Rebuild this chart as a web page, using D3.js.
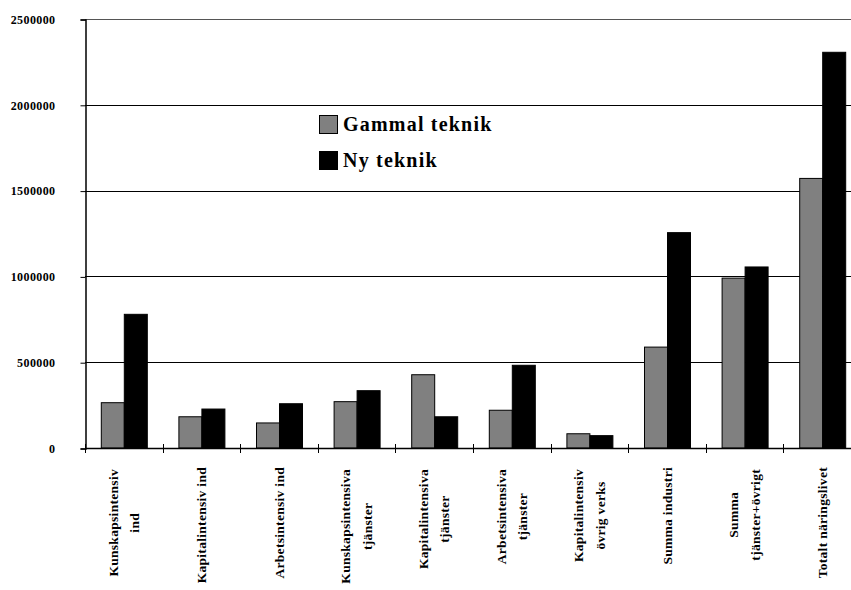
<!DOCTYPE html>
<html><head><meta charset="utf-8">
<script src="https://cdn.jsdelivr.net/npm/d3@7"></script>
<style>body{margin:0;background:#fff}svg{display:block}</style>
</head><body><svg id="c" width="851" height="590"></svg>
<script>
const categories = [
  ["Kunskapsintensiv","ind"],
  ["Kapitalintensiv ind"],
  ["Arbetsintensiv ind"],
  ["Kunskapsintensiva","tjänster"],
  ["Kapitalintensiva","tjänster"],
  ["Arbetsintensiva","tjänster"],
  ["Kapitalintensiv","övrig verks"],
  ["Summa industri"],
  ["Summa","tjänster+övrigt"],
  ["Totalt näringslivet"]
];
const seriesNames = ["Gammal teknik","Ny teknik"];
const gammal = [264000,182000,146000,270000,427000,220000,83000,588000,990000,1571000];
const ny     = [779000,227000,258000,334000,182000,482000,72000,1255000,1055000,2306000];
const yTicks = [0,500000,1000000,1500000,2000000,2500000];

const colors = {"Gammal teknik":"#808080","Ny teknik":"#000000"};
const font = "'Liberation Serif','DejaVu Serif',serif";
const svg = d3.select("#c");
const x0 = 85, x1 = 861, yTop = 19, yBot = 448;
const keys = categories.map((c,i)=>"c"+i);
const x = d3.scaleBand().domain(keys).range([x0,x1]).paddingInner(0).paddingOuter(0);
const xs = d3.scaleBand().domain(seriesNames).range([0,x.bandwidth()]).paddingInner(0).paddingOuter(0.687);
const y = d3.scaleLinear().domain([0,2500000]).range([yBot,yTop]);

// gridlines
svg.append("g").selectAll("line").data(yTicks).join("line")
  .attr("x1",x0).attr("x2",851).attr("y1",d=>Math.round(y(d))+0.5).attr("y2",d=>Math.round(y(d))+0.5)
  .attr("stroke",d=>d===2500000?"#555":"#000").attr("stroke-width",1);

// y axis
const ya = svg.append("g").attr("transform",`translate(${x0+0.5},0.5)`)
  .call(d3.axisLeft(y).tickValues(yTicks).tickSize(5).tickPadding(25).tickFormat(d3.format("d")));
ya.select(".domain").attr("stroke","#000").attr("stroke-width",1.5);
ya.selectAll("text").attr("font-family",font).attr("font-weight","bold").attr("font-size","12px")
  .attr("letter-spacing","0.4px").attr("fill","#000");

// bars
const data = keys.map((k,i)=>({k, vals:[{s:"Gammal teknik",v:gammal[i]},{s:"Ny teknik",v:ny[i]}]}));
const g = svg.append("g").selectAll("g").data(data).join("g")
  .attr("transform",d=>`translate(${x(d.k)},0)`);
g.selectAll("rect").data(d=>d.vals).join("rect")
  .attr("x",d=>xs(d.s)+0.5).attr("width",xs.bandwidth())
  .attr("y",d=>y(d.v)).attr("height",d=>yBot-y(d.v))
  .attr("fill",d=>colors[d.s]).attr("stroke","#000").attr("stroke-width",1);

// baseline + x ticks
svg.append("line").attr("x1",x0).attr("x2",851).attr("y1",yBot+0.5).attr("y2",yBot+0.5).attr("stroke","#000").attr("stroke-width",1.5);
const bounds = keys.map(k=>x(k)).concat([x1]);
svg.append("g").selectAll("line").data(bounds).join("line")
  .attr("x1",d=>Math.round(d)+0.5).attr("x2",d=>Math.round(d)+0.5).attr("y1",yBot-4).attr("y2",yBot+5)
  .attr("stroke","#000").attr("stroke-width",1);

// x labels (wrapped lines centred on each other, block aligned to top)
const lg = svg.append("g");
categories.forEach((lines,i)=>{
  const cx = x(keys[i]) + x.bandwidth()/2;
  const n = lines.length;
  const texts = lines.map((t,j)=>{
    const off = (j-(n-1)/2)*21.5;
    return lg.append("text")
      .attr("font-family",font).attr("font-weight","bold").attr("font-size","13.5px")
      .attr("letter-spacing","0.3px")
      .datum(cx+off+4.5)
      .text(t);
  });
  const maxLen = d3.max(texts, t=>t.node().getComputedTextLength());
  const top = n>1 ? 469 : 467;
  texts.forEach(t=>{
    t.attr("text-anchor","middle")
     .attr("transform",`translate(${t.datum()},${top+maxLen/2}) rotate(-90)`);
  });
});

// legend
const leg = svg.append("g");
seriesNames.forEach((s,i)=>{
  const ly = 115 + i*36;
  leg.append("rect").attr("x",319.5).attr("y",ly+0.5).attr("width",18).attr("height",18)
    .attr("fill",colors[s]).attr("stroke","#000").attr("stroke-width",1);
  leg.append("text").attr("x",343).attr("y",ly+15.5)
    .attr("font-family",font).attr("font-weight","bold").attr("font-size","20px")
    .attr("letter-spacing","1.2px").text(s);
});
</script></body></html>
